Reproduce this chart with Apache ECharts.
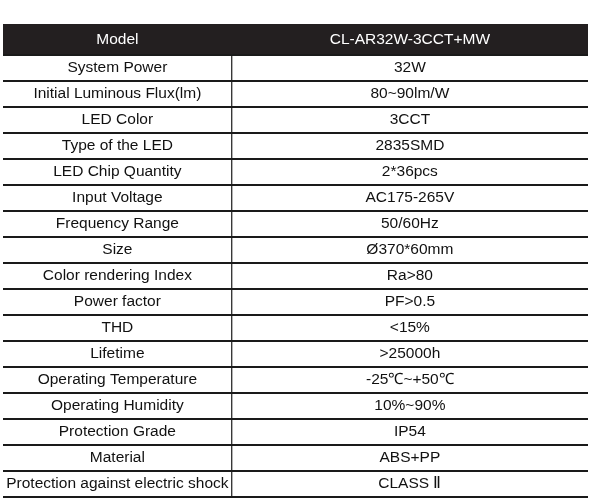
<!DOCTYPE html><html><head><meta charset="utf-8"><script src="https://cdn.jsdelivr.net/npm/echarts@6/dist/echarts.min.js"></script>
<style>html,body{margin:0;background:#fff}#c{width:593px;height:502px}</style></head><body><div id="c"></div><script>
const header = ["Model", "CL-AR32W-3CCT+MW"];
const params = ["System Power","Initial Luminous Flux(lm)","LED Color","Type of the LED","LED Chip Quantity","Input Voltage","Frequency Range","Size","Color rendering Index","Power factor","THD","Lifetime","Operating Temperature","Operating Humidity","Protection Grade","Material","Protection against electric shock"];
const values = ["32W","80~90lm/W","3CCT","2835SMD","2*36pcs","AC175-265V","50/60Hz","Ø370*60mm","Ra>80","PF>0.5","<15%",">25000h","-25℃~+50℃","10%~90%","IP54","ABS+PP","CLASS Ⅱ"];
const rows = [header].concat(params.map((p,i)=>[p,values[i]]));
const cats = rows.map((r,i)=>String(i));
const split = 0.391;
const chart = echarts.init(document.getElementById('c'));
chart.setOption({
  animation:false,
  grid:{left:3,right:5,top:29,bottom:5},
  xAxis:{type:'value',min:0,max:1,show:false},
  yAxis:{type:'category',data:cats,inverse:true,show:false},
  series:[{type:'custom',data:rows.map((r,i)=>[0,i]),
    renderItem:function(p,api){
      const i=p.dataIndex;
      const r=rows[i];
      const cs=p.coordSys;
      const h=api.size([0,1])[1];
      const yc=api.coord([0,i])[1];
      const top=yc-h/2, bot=yc+h/2;
      const x0=cs.x, x1=cs.x+cs.width, xs=cs.x+cs.width*split;
      const head=i===0;
      const font='15.5px "Liberation Sans", Arial, sans-serif';
      const ch=[];
      if(head){
        ch.push({type:'rect',shape:{x:x0,y:top-5,width:x1-x0,height:h+5},style:{fill:'#231f20'}});
      }
      ch.push({type:'line',shape:{x1:x0,y1:bot,x2:x1,y2:bot},style:{stroke:'#1a1a1a',lineWidth:2}});
      if(!head) ch.push({type:'line',shape:{x1:xs,y1:top,x2:xs,y2:bot},style:{stroke:'#1a1a1a',lineWidth:1.2}});
      const col=head?'#ffffff':'#111111';
      const ty=head?yc-2:yc;
      ch.push({type:'text',style:{text:r[0],x:(x0+xs)/2,y:ty,align:'center',verticalAlign:'middle',font:font,fill:col}});
      ch.push({type:'text',style:{text:r[1],x:(xs+x1)/2,y:ty,align:'center',verticalAlign:'middle',font:font,fill:col}});
      return {type:'group',children:ch};
    }}]
});
</script></body></html>
